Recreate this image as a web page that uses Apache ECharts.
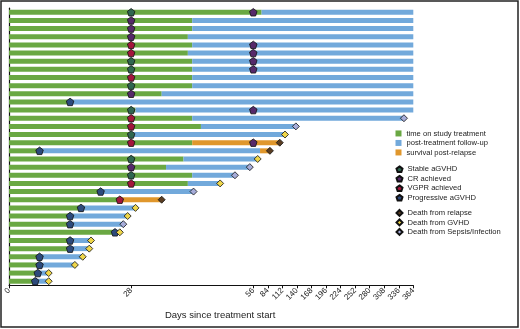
<!DOCTYPE html>
<html>
<head>
<meta charset="utf-8">
<script src="https://cdn.jsdelivr.net/npm/echarts@6/dist/echarts.min.js"></script>
<style>
  html, body {margin: 0; padding: 0; background: #fff;}
  #chart {width: 520px; height: 329px;}
</style>
</head>
<body>
<div id="chart"></div>
<script>
// days, one entry per patient row (top to bottom)
const treatEnd = [72, 42, 42, 41, 42, 41, 42, 42, 42, 42, 35, 14, 29, 42, 44, 28, 42, 7, 40, 36, 42, 41, 21, 25.4, 16.5, 14, 14, 24.3, 14, 14, 7, 7, 6.6, 6];
const followEnd = [365, 365, 365, 365, 365, 365, 365, 365, 365, 365, 365, 365, 365, 346, 138, 117, 42, 69, 64.5, 55.2, 51.8, 48.4, 42.3, 25.4, 29, 27.2, 26.2, 25.4, 18.8, 18.4, 16.9, 15.1, 9.1, 9.1];
const relapseEnd = [null, null, null, null, null, null, null, null, null, null, null, null, null, null, null, null, 107, 88, null, null, null, null, null, 35, null, null, null, null, null, null, null, null, null, null];

// markers: [day, row]
const stableGvhd = [[28, 0], [28, 6], [28, 7], [28, 9], [28, 12], [28, 15], [28, 18], [28, 20]];
const crAchieved = [[56, 0], [28, 1], [28, 2], [28, 3], [56, 4], [56, 5], [56, 6], [56, 7], [28, 10], [56, 12], [56, 16], [28, 19]];
const vgprAchieved = [[28, 4], [28, 5], [28, 8], [28, 13], [28, 14], [28, 16], [28, 21], [25.4, 23]];
const progGvhd = [[14, 11], [7, 17], [21, 22], [16.5, 24], [14, 25], [14, 26], [24.3, 27], [14, 28], [14, 29], [7, 30], [7, 31], [6.6, 32], [6, 33]];
const deathRelapse = [[107, 16], [88, 17], [35, 23]];
const deathGvhd = [[117, 15], [64.5, 18], [48.4, 21], [29, 24], [27.2, 25], [25.4, 27], [18.8, 28], [18.4, 29], [16.9, 30], [15.1, 31], [9.1, 32], [9.1, 33]];
const deathSepsis = [[346, 13], [138, 14], [55.2, 19], [51.8, 20], [42.3, 22], [26.2, 26]];

const tickDays = [0, 28, 56, 84, 112, 140, 168, 196, 224, 252, 280, 308, 336, 364];

// axis is linear to day 56, then compressed
const squeeze = 0.1191;
const t = d => d <= 56 ? d : 56 + (d - 56) * squeeze;
const untransform = v => v <= 56 ? v : 56 + (v - 56) / squeeze;

const rows = treatEnd.map((_, i) => i);
const green = treatEnd.map(d => t(d));
const blue = followEnd.map((d, i) => t(d) - t(treatEnd[i]));
const orange = relapseEnd.map((d, i) => d == null ? 0 : t(d) - t(followEnd[i]));

const pentagon = 'path://M0,-1L0.951,-0.309L0.588,0.809L-0.588,0.809L-0.951,-0.309Z';
const font = 'Liberation Sans';

const bar = (name, data, color) => ({
  name, type: 'bar', stack: 'time', data, barWidth: 5,
  itemStyle: {color}, silent: true
});
const marks = (name, data, symbol, color, size) => ({
  name, type: 'scatter', symbol, symbolSize: size,
  data: data.map(([d, r]) => [t(d), r]),
  itemStyle: {color, borderColor: '#111', borderWidth: 0.8, opacity: 1},
  z: 5
});

const legendBase = {
  orient: 'vertical', left: 395.5, padding: 0, itemWidth: 6, itemHeight: 6, itemGap: 0,
  textStyle: {fontFamily: font, fontSize: 7.6, color: '#222', lineHeight: 9.5}
};

const chart = echarts.init(document.getElementById('chart'));
chart.setOption({
  animation: false,
  grid: {left: 9, right: 106.7, top: 8.2, bottom: 43.7},
  xAxis: {
    type: 'value', min: 0, max: t(364),
    name: 'Days since treatment start', nameLocation: 'middle', nameGap: 25,
    nameTextStyle: {fontFamily: font, fontSize: 9.5, color: '#222', padding: [0, 0, 0, 18]},
    splitLine: {show: false},
    axisLine: {show: true, lineStyle: {color: '#111', width: 1}},
    axisTick: {show: true, length: 3, customValues: tickDays.map(t), lineStyle: {color: '#111'}},
    axisLabel: {
      customValues: tickDays.map(t), rotate: 45, margin: 4,
      fontFamily: font, fontSize: 8, color: '#222',
      formatter: v => String(Math.round(untransform(v)))
    }
  },
  yAxis: {
    type: 'category', data: rows, inverse: true,
    axisLine: {show: true, lineStyle: {color: '#111', width: 1.2}},
    axisTick: {show: false}, axisLabel: {show: false}, splitLine: {show: false}
  },
  legend: [
    {...legendBase, top: 128.7, icon: 'rect',
      data: ['time on study treatment', 'post-treatment follow-up', 'survival post-relapse']},
    {...legendBase, top: 164.5,
      data: ['Stable aGVHD', 'CR achieved', 'VGPR achieved', 'Progressive aGVHD']},
    {...legendBase, top: 208.2,
      data: ['Death from relapse', 'Death from GVHD', 'Death from Sepsis/Infection']}
  ],
  series: [
    bar('time on study treatment', green, '#6aa843'),
    bar('post-treatment follow-up', blue, '#72a9db'),
    bar('survival post-relapse', orange, '#e0972c'),
    marks('Stable aGVHD', stableGvhd, pentagon, '#2f6650', 7.5),
    marks('CR achieved', crAchieved, pentagon, '#56296a', 7.5),
    marks('VGPR achieved', vgprAchieved, pentagon, '#a3163c', 7.5),
    marks('Progressive aGVHD', progGvhd, pentagon, '#2d4a7c', 7.5),
    marks('Death from relapse', deathRelapse, 'diamond', '#5a3d22', 7),
    marks('Death from GVHD', deathGvhd, 'diamond', '#efd64a', 7),
    marks('Death from Sepsis/Infection', deathSepsis, 'diamond', '#a6acd9', 7)
  ],
  graphic: [{
    type: 'rect', silent: true,
    shape: {x: 1, y: 1, width: 517, height: 326},
    style: {fill: 'none', stroke: '#222', lineWidth: 1.5}
  }]
});
</script>
</body>
</html>
